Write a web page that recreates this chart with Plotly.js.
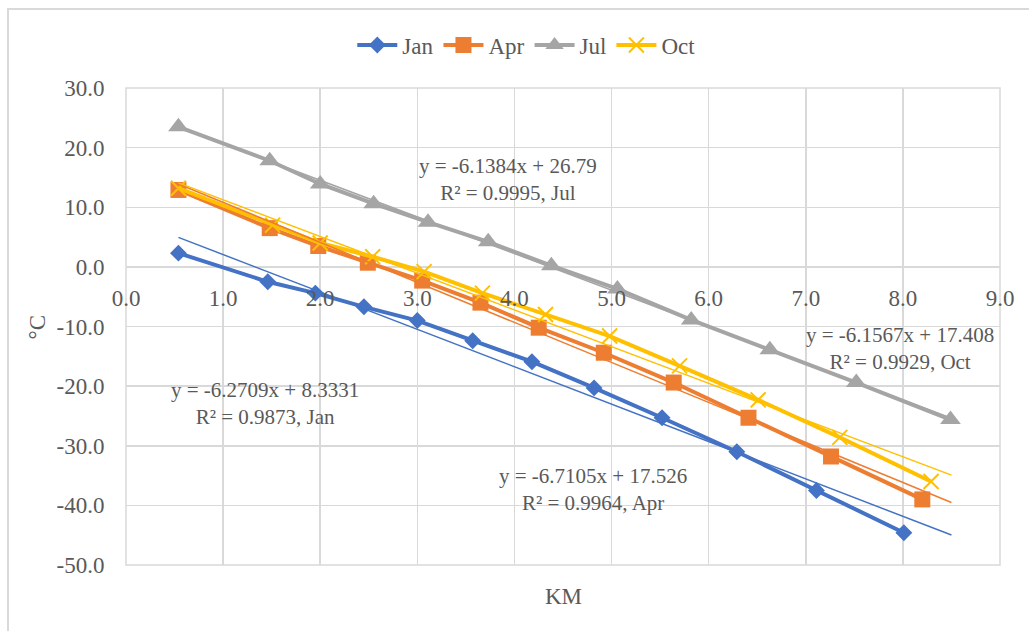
<!DOCTYPE html>
<html>
<head>
<meta charset="utf-8">
<script src="https://cdn.plot.ly/plotly-3.0.1.min.js"></script>
<style>html,body{margin:0;padding:0;background:#fff;}#chart{width:1029px;height:631px;}</style>
</head>
<body>
<div id="chart"></div>
<script>
// ---- data ----
const seriesNames = ["Jan", "Apr", "Jul", "Oct"];
const janX = [0.54, 1.46, 1.95, 2.45, 3.00, 3.57, 4.18, 4.82, 5.52, 6.29, 7.11, 8.01];
const janY = [2.3, -2.5, -4.4, -6.7, -9.0, -12.4, -15.9, -20.3, -25.3, -31.0, -37.5, -44.6];
const aprX = [0.54, 1.48, 1.98, 2.49, 3.05, 3.65, 4.25, 4.92, 5.64, 6.41, 7.26, 8.20];
const aprY = [12.9, 6.5, 3.5, 0.7, -2.3, -6.0, -10.2, -14.4, -19.4, -25.3, -31.8, -39.0];
const julX = [0.54, 1.48, 2.00, 2.55, 3.11, 3.73, 4.38, 5.06, 5.82, 6.63, 7.52, 8.49];
const julY = [23.5, 17.8, 13.9, 10.6, 7.5, 4.2, 0.2, -3.7, -8.9, -13.9, -19.4, -25.6];
const octX = [0.54, 1.51, 2.00, 2.54, 3.07, 3.67, 4.32, 4.98, 5.70, 6.51, 7.35, 8.29];
const octY = [13.2, 7.0, 4.0, 1.7, -0.8, -4.4, -8.0, -11.6, -16.6, -22.3, -28.6, -36.0];
// trendline coefficients shown on the chart
const trendSlope = [-6.2709, -6.7105, -6.1384, -6.1567];
const trendIntercept = [8.3331, 17.526, 26.79, 17.408];
const trendR2 = ["0.9873", "0.9964", "0.9995", "0.9929"];
const trendXEnd = 8.5;
const trendSlopeText = ["-6.2709", "-6.7105", "-6.1384", "-6.1567"];
const trendInterceptText = ["8.3331", "17.526", "26.79", "17.408"];
// annotation anchor positions (data coords)
const labelX = [1.43, 4.81, 3.93, 7.97];
const labelY = [-22.9, -37.4, 14.6, -13.7];
const xTicks = [0, 1, 2, 3, 4, 5, 6, 7, 8, 9];
const yTicks = [30, 20, 10, 0, -10, -20, -30, -40, -50];
const xTickText = xTicks.map(v => v.toFixed(1));
const yTickText = yTicks.map(v => v.toFixed(1));

const colors = ["#4472C4", "#ED7D31", "#A5A5A5", "#FFC000"];
const xs = [janX, aprX, julX, octX];
const ys = [janY, aprY, julY, octY];
const markers = [
  {symbol: "diamond", size: 13, color: colors[0]},
  {symbol: "square", size: 16, color: colors[1]},
  {symbol: "triangle-up", size: 18, color: colors[2]},
  {symbol: "x-thin", size: 15, color: colors[3], line: {color: colors[3], width: 2}}
];
const textColor = "#595959";
const fontFam = "Liberation Serif, Times New Roman, serif";

const traces = [];
for (let i = 0; i < 4; i++) {
  traces.push({
    x: xs[i], y: ys[i], name: seriesNames[i], type: "scatter", mode: "lines+markers",
    line: {color: colors[i], width: 4}, marker: markers[i]
  });
}
for (let i = 0; i < 4; i++) {
  const x0 = Math.min(...xs[i]);
  traces.push({
    x: [x0, trendXEnd],
    y: [trendSlope[i] * x0 + trendIntercept[i], trendSlope[i] * trendXEnd + trendIntercept[i]],
    type: "scatter", mode: "lines", showlegend: false, hoverinfo: "skip",
    line: {color: colors[i], width: 1.5}
  });
}

const yMin = Math.min(...yTicks), yMax = Math.max(...yTicks);
const annotations = [];
for (let i = 0; i < 4; i++) {
  annotations.push({
    x: labelX[i], y: labelY[i], xref: "x", yref: "y", showarrow: false, align: "center",
    xanchor: "center", yanchor: "middle",
    text: "y = " + trendSlopeText[i] + "x + " + trendInterceptText[i] + "<br>R² = " + trendR2[i] + ", " + seriesNames[i],
    font: {family: fontFam, size: 21, color: textColor}
  });
}
annotations.push({x: 0.5, y: -0.067, xref: "paper", yref: "paper", showarrow: false,
  xanchor: "center", yanchor: "middle",
  text: "KM", font: {family: fontFam, size: 23, color: textColor}});
annotations.push({x: -0.1007, y: 0.5, xref: "paper", yref: "paper", showarrow: false, textangle: -90,
  xanchor: "center", yanchor: "middle",
  text: "°C", font: {family: fontFam, size: 23, color: textColor}});

const layout = {
  width: 1029, height: 631,
  margin: {l: 126, r: 29, t: 88, b: 66},
  paper_bgcolor: "#fff", plot_bgcolor: "#fff",
  font: {family: fontFam, size: 23, color: textColor},
  showlegend: true,
  legend: {orientation: "h", x: 0.458, xanchor: "center", y: 1.09, yanchor: "middle",
    font: {family: fontFam, size: 23, color: textColor}, itemwidth: 40, traceorder: "normal"},
  xaxis: {range: [0, 9], tickvals: xTicks, ticktext: xTickText, showgrid: true, gridcolor: "#D9D9D9", gridwidth: 1.5,
    zeroline: false, showline: false, anchor: "free", position: (0 - yMin) / (yMax - yMin),
    ticks: "outside", ticklen: 11, tickcolor: "rgba(0,0,0,0)", fixedrange: true},
  yaxis: {range: [yMin, yMax], tickvals: yTicks, ticktext: yTickText, showgrid: true, gridcolor: "#D9D9D9", gridwidth: 1.5,
    zeroline: true, zerolinecolor: "#D9D9D9", zerolinewidth: 1.5, showline: false,
    ticks: "outside", ticklen: 16, tickcolor: "rgba(0,0,0,0)", fixedrange: true},
  annotations: annotations,
  shapes: [
    {type: "rect", xref: "paper", yref: "paper", x0: 0, x1: 1, y0: 0, y1: 1, line: {color: "#D9D9D9", width: 1.5}, layer: "below"},
    {type: "rect", xref: "paper", yref: "paper", x0: -0.135, x1: 1.2, y0: -0.3, y1: 1.1656, line: {color: "#D9D9D9", width: 2}, layer: "below"}
  ]
};
Plotly.newPlot("chart", traces, layout, {displayModeBar: false, staticPlot: true});
</script>
</body>
</html>
